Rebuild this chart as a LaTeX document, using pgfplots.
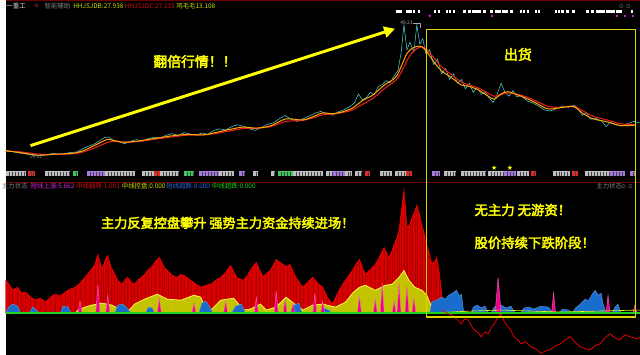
\documentclass[border=0pt]{standalone}
\usepackage{pgfplots}
\pgfplotsset{compat=1.18}
\usepackage{pgfplotstable}
\usepackage{fontspec}
\usetikzlibrary{arrows.meta}
\newfontfamily\cjk{Noto Sans CJK SC}
\newfontfamily\cjkb[FakeBold=3]{Noto Sans CJK SC}
\newfontfamily\sym{DejaVu Sans}
\definecolor{ma1}{RGB}{255,170,0}
\definecolor{ma2}{RGB}{230,30,30}
\definecolor{cand}{RGB}{90,215,215}
\definecolor{redfill}{RGB}{215,0,0}
\definecolor{yfill}{RGB}{195,195,0}
\definecolor{bfill}{RGB}{25,110,205}
\definecolor{txty}{RGB}{255,255,0}
\definecolor{gridred}{RGB}{110,0,0}
\definecolor{boxg}{RGB}{190,190,195}
\definecolor{boxp}{RGB}{165,120,225}
\definecolor{boxr}{RGB}{225,40,40}
\definecolor{boxgr}{RGB}{60,200,90}
\definecolor{hdry}{RGB}{205,225,0}
\definecolor{hdrr}{RGB}{210,10,10}
\definecolor{hdrm}{RGB}{220,40,230}
\definecolor{hdrb}{RGB}{40,110,230}
\definecolor{hdrg}{RGB}{30,210,30}

\pgfplotstableread{
x v
0 33
4 28
7 23
12 26
16 20
20 21
25 16
30 13
35 15
40 11
45 16
50 19
55 17
60 21
65 24
70 26
75 30
80 36
85 42
90 49
93 59
96 48
98 46
101 55
103 58
106 47
110 39
113 33
117 29
120 33
123 36
127 31
130 29
133 33
137 36
141 40
144 44
147 46
151 52
155 56
158 50
160 46
164 42
167 39
170 37
173 36
177 39
180 38
184 35
187 33
192 29
197 26
202 28
207 29
212 33
217 36
222 41
227 48
230 42
233 36
237 34
240 33
244 38
248 45
253 51
256 44
260 36
263 40
267 43
270 48
273 54
277 51
280 49
284 47
287 49
290 42
293 36
297 30
300 26
305 31
310 36
315 30
320 26
325 15
330 9
335 20
340 29
345 36
350 43
354 50
357 54
360 46
363 39
368 44
373 49
377 56
382 66
385 60
387 56
390 63
392 69
395 76
397 83
399 100
402 124
404 100
405 86
408 90
410 96
413 103
415 109
418 98
420 89
423 78
425 69
428 58
430 49
433 52
435 56
438 38
440 19
443 3
445 0
}\redtab

\pgfplotstableread{
x v
0 15.5
8 15.0
16 14.6
24 14.3
32 13.9
40 14.2
48 14.6
56 14.3
64 14.8
72 15.0
78 15.9
84 16.6
90 17.2
96 18.2
100 18.9
104 19.0
108 18.2
114 17.8
120 17.2
126 17.9
132 18.3
138 17.9
144 18.6
150 19.0
156 18.7
162 19.5
168 19.9
174 19.4
180 20.2
186 19.8
192 19.5
198 20.1
204 19.7
210 20.8
216 21.2
222 20.9
228 21.8
234 22.3
240 21.9
246 21.2
252 20.8
258 21.6
264 22.4
270 22.8
276 23.9
282 24.8
288 23.8
294 23.2
300 23.9
306 24.6
312 25.4
318 25.9
324 25.2
330 24.9
336 25.8
342 26.4
348 27.3
352 28.2
356 30.6
360 29.0
364 29.6
368 31.0
372 30.4
376 32.6
380 33.1
384 34.2
388 33.6
392 35.4
396 37.0
399 41.5
402 49.2
405 42.5
408 44.5
412 42.0
415 49.2
418 44.0
421 45.5
424 41.5
428 42.5
432 38.5
436 40.0
440 36.0
444 37.5
448 34.5
452 36.0
456 33.5
460 34.5
464 32.0
468 33.5
472 31.0
476 32.5
480 30.5
484 31.2
488 29.5
492 28.3
496 30.5
500 33.5
504 31.0
508 30.0
512 31.5
516 29.8
520 30.2
526 28.8
532 28.2
538 27.3
544 26.3
550 26.0
556 26.7
562 27.4
568 27.0
574 27.6
578 26.5
582 24.8
586 25.6
590 23.8
596 24.0
602 23.2
606 21.8
610 23.0
616 22.4
622 22.0
628 22.6
634 23.2
640 22.8
}\pricetab

\begin{document}
\begin{tikzpicture}
\begin{scope}[x=1pt,y=1pt]
\useasboundingbox (0,0) rectangle (640,358);
\fill[black] (0,0) rectangle (640,358);
\draw[gridred, line width=1pt] (0,357.5) -- (640,357.5);
\draw[gridred, line width=0.6pt] (0,174) -- (640,174);
\end{scope}

% ---------- price panel ----------
\begin{axis}[at={(0pt,188pt)}, anchor=south west, scale only axis,
  width=640pt, height=158pt, xmin=0, xmax=640, ymin=10.56, ymax=52.70,
  hide axis, clip=false]
\addplot[cand, line width=0.5pt] table[x=x,y=v] {\pricetab};
\addplot[ma2, line width=1.1pt, smooth] coordinates {
(0,15.2)(15,15.0)(33,14.4)(50,14.3)(67,14.5)(77,14.9)(87,15.8)(97,16.9)(103,17.6)(110,17.8)(120,17.6)(133,17.8)(150,18.4)(167,19.0)(183,19.5)(200,19.6)(213,20.0)(227,20.7)(240,21.3)(253,21.4)(267,21.8)(283,23.2)(300,23.5)(313,24.4)(320,25.0)(330,25.2)(340,25.6)(350,26.3)(360,27.8)(370,29.3)(377,30.8)(383,32.2)(390,33.5)(395,34.7)(400,36.8)(405,39.6)(410,41.6)(415,42.8)(420,43.3)(425,42.6)(432,40.4)(440,37.9)(450,35.8)(460,33.8)(467,33.1)(477,32.2)(487,30.8)(493,30.0)(500,30.4)(507,30.9)(520,30.3)(533,29.0)(547,27.3)(560,27.0)(573,27.3)(583,26.0)(593,24.6)(607,23.6)(620,22.6)(635,22.4)};
\addplot[ma1, line width=1pt, smooth] coordinates {
(0,15.3)(15,14.8)(33,14.1)(50,14.4)(67,14.6)(77,15.2)(87,16.4)(97,17.7)(103,18.4)(110,18.0)(120,17.6)(133,17.9)(150,18.6)(167,19.3)(183,19.7)(200,19.6)(213,20.3)(227,21.1)(240,21.7)(253,21.4)(267,22.0)(283,23.9)(300,23.6)(313,24.8)(320,25.5)(330,25.3)(340,25.8)(350,26.8)(360,28.8)(370,30.2)(377,31.8)(383,33.2)(390,34.3)(395,35.6)(400,38.5)(405,41.5)(410,42.8)(415,43.4)(420,43.3)(425,42.0)(432,39.3)(440,36.8)(450,35.0)(460,33.0)(467,32.7)(477,31.7)(487,30.0)(493,29.2)(500,30.6)(507,31.2)(520,30.0)(533,28.5)(547,26.6)(560,26.9)(573,27.2)(583,25.3)(593,23.9)(607,23.1)(620,22.1)(635,22.2)};
% top status dots
\addplot[only marks, mark=square*, mark size=0.8pt, white] coordinates {
(395,52.96)(398,52.96)(405,52.96)(408,52.96)(412,52.96)(417,52.96)(433,52.96)(437,52.96)(445,52.96)(448,52.96)(452,52.96)(463,52.96)(468,52.96)(472,52.96)(475,52.96)(478,52.96)(483,52.96)(490,52.96)(495,52.96)(498,52.96)(502,52.96)(505,52.96)(510,52.96)(520,52.96)(523,52.96)(527,52.96)(535,52.96)(538,52.96)(555,52.96)(558,52.96)(562,52.96)(567,52.96)(573,52.96)(587,52.96)(592,52.96)(597,52.96)(600,52.96)(603,52.96)(607,52.96)(610,52.96)(613,52.96)(617,52.96)(620,52.96)(632,52.96)};
\addplot[only marks, mark=*, mark size=1pt, hdrm] coordinates {
(428,51.6)(491,51.6)(617,51.6)(625,51.6)(633,51.6)};
\end{axis}

% ---------- indicator panel ----------
\begin{axis}[at={(0pt,0pt)}, anchor=south west, scale only axis,
  width=640pt, height=173pt, xmin=0, xmax=640, ymin=-42, ymax=131,
  hide axis]
\addplot[fill=redfill, draw=red, line width=0.7pt] table[x=x,y=v] {\redtab} \closedcycle;
\addplot[ycomb, draw=black, opacity=0.2, line width=0.5pt] table[x=x,y=v] {\redtab};
\addplot[fill=yfill, draw=yellow!70!white, line width=0.8pt] coordinates {
(70,0)(73,3)(80,6)(87,8)(97,10)(107,8)(117,3)(123,1)(130,9)(140,14)(153,19)(163,14)(177,13)(190,18)(197,16)(200,8)(207,3)(217,13)(230,15)(240,3)(247,4)(257,9)(263,3)(273,6)(283,16)(293,8)(300,3)(310,8)(320,9)(333,6)(343,11)(350,20)(357,26)(363,28)(373,23)(383,28)(390,29)(397,36)(402,43)(407,33)(413,26)(420,23)(425,18)(430,6)(435,1)(438,0)} \closedcycle;
\addplot[fill=bfill, draw=bfill!70!white, line width=0.4pt] coordinates {
(0,0)(3,6)(7,9)(12,7)(15,0)(24,0)(27,6)(30,4)(33,0)(55,0)(58,7)(63,6)(66,0)(110,0)(113,8)(118,9)(123,5)(126,0)(141,0)(144,6)(148,5)(150,0)(195,0)(198,10)(202,12)(206,6)(209,0)(228,0)(232,7)(238,9)(242,0)(287,0)(291,8)(296,10)(299,0)(318,0)(321,5)(326,3)(329,0)(428,0)(430,11)(435,13)(440,16)(444,14)(447,18)(451,20)(455,23)(458,17)(460,19)(462,3)(465,0)(470,0)(472,6)(476,8)(480,5)(484,7)(487,0)(490,0)(493,6)(500,8)(505,5)(510,7)(514,0)(520,0)(523,5)(528,6)(533,4)(540,7)(548,6)(552,0)(558,0)(562,4)(568,3)(572,0)(575,5)(580,9)(585,14)(588,12)(592,19)(595,23)(598,18)(601,20)(603,9)(606,0)(612,0)(615,6)(618,9)(621,0)(640,0)} \closedcycle;
\addplot[fill=magenta, draw=magenta!60!white, line width=0.4pt] coordinates {
(0,0)(73,0)(75,12)(77,0)(91,0)(93,29)(95,0)(101,0)(103,18)(105,0)(153,0)(155,15)(157,0)(188,0)(190,10)(192,0)(220,0)(222,12)(224,0)(251,0)(253,16)(255,0)(271,0)(273,22)(275,0)(280,0)(282,14)(284,0)(288,0)(290,10)(292,0)(310,0)(312,20)(314,0)(318,0)(320,12)(322,0)(355,0)(357,17)(359,0)(371,0)(373,14)(375,0)(378,0)(380,30)(382,0)(390,0)(392,12)(394,0)(395,0)(397,30)(399,0)(403,0)(405,27)(407,0)(410,0)(412,15)(414,0)(494,0)(497,36)(500,0)(551,0)(553,21)(555,0)(606,0)(608,18)(610,0)(633,0)(635,8)(637,0)(640,0)} \closedcycle;
\addplot[yellow, line width=0.6pt] coordinates {(438,0.5)(470,2)(500,3)(530,2)(560,1)(600,2)(640,3)};
\addplot[hdrg, line width=1.2pt] coordinates {(0,0)(640,0)};
\addplot[red, line width=0.7pt] coordinates {
(440,3)(445,0)(450,-2)(453,-4)(457,-8)(460,-11)(463,-6)(467,-7)(470,-13)(473,-17)(477,-20)(480,-24)(484,-19)(487,-21)(490,-15)(493,-11)(497,-4)(500,-1)(503,-8)(507,-14)(510,-18)(513,-24)(517,-27)(520,-31)(525,-29)(530,-34)(535,-36)(540,-41)(545,-38)(550,-37)(555,-33)(560,-31)(565,-27)(570,-24)(575,-30)(580,-34)(585,-36)(590,-37)(595,-33)(600,-31)(605,-25)(610,-21)(615,-25)(620,-27)(625,-22)(630,-24)(637,-26)(640,-25)};
\end{axis}

\begin{scope}[x=1pt,y=1pt]
% label boxes row
\foreach \a/\b/\c in {0/20/boxg,22/30/boxr,40/65/boxg,68/73/boxgr,82/100/boxp,100/130/boxg,138/150/boxg,150/156/boxr,156/175/boxg,180/190/boxgr,195/215/boxp,215/230/boxg,235/242/boxp,250/255/boxg,268/272/boxg,275/290/boxgr,290/320/boxg,323/330/boxg,330/342/boxp,342/350/boxg,353/360/boxg,363/368/boxr,378/390/boxg,393/404/boxg,404/410/boxr,430/438/boxp,442/455/boxg,460/485/boxg,487/503/boxg,503/515/boxp,516/528/boxg,530/535/boxr,552/570/boxg,572/578/boxr,585/610/boxg,610/625/boxp,630/636/boxp}
  {\fill[\c] (\a,180) rectangle (\b,185);
   \foreach \k in {3,6,...,60} {\pgfmathparse{\a+\k}\ifdim\pgfmathresult pt<\b pt\fill[black!75] (\pgfmathresult,180.5) rectangle ++(0.6,4);\fi}}
\node[txty, font=\sym\fontsize{7}{7}\selectfont] at (493,188) {★};
\node[txty, font=\sym\fontsize{7}{7}\selectfont] at (509,188) {★};
% arrow
\draw[txty, line width=3pt, -{Triangle[length=11pt,width=11pt]}] (25,211) -- (393,329);
% yellow box
\draw[txty!85!black, line width=1.3pt] (425,38) rectangle (636,328);
% peak / low labels
\node[anchor=east, gray!70!white, font=\cjk\fontsize{5}{5}\selectfont, inner sep=0] at (411,335) {49.23};
\draw[gray!70!white, line width=0.4pt] (411,335) -- (418,335) -- (418,330);
\node[anchor=west, gray, font=\cjk\fontsize{5}{5}\selectfont, inner sep=0] at (24,200) {14.02};
% header texts
\node[anchor=west, inner sep=0, white!85!black, font=\cjk\fontsize{6.5}{6.5}\selectfont] at (-6,352) {三一重工};
\node[inner sep=0, red!80!white, font=\sym\fontsize{5}{5}\selectfont] at (31,352) {⊙};
\node[anchor=west, inner sep=0, gray, font=\cjk\fontsize{6.5}{6.5}\selectfont] at (39,352) {智能辅助};
\node[anchor=west, inner sep=0, hdry, font=\cjk\fontsize{6.5}{6.5}\selectfont] at (68,352) {HHJSJDB:27.938};
\node[anchor=west, inner sep=0, hdrr, font=\cjk\fontsize{6.5}{6.5}\selectfont] at (120,352) {HHJSJDC:27.133};
\node[anchor=west, inner sep=0, hdry, font=\cjk\fontsize{6.5}{6.5}\selectfont] at (172,352) {鸡毛毛13.108};
\node[inner sep=0, gray, font=\sym\fontsize{6}{6}\selectfont] at (625,351) {⊙ ⊙};
% second header
\node[anchor=west, inner sep=0, gray, font=\cjk\fontsize{6.5}{6.5}\selectfont] at (-4,170) {主力状态};
\node[anchor=west, inner sep=0, hdrm, font=\cjk\fontsize{6.5}{6.5}\selectfont] at (25,170) {短线上涨:5.662};
\node[anchor=west, inner sep=0, hdrr, font=\cjk\fontsize{6.5}{6.5}\selectfont] at (71,170) {中线翻转:1.001};
\node[anchor=west, inner sep=0, hdry, font=\cjk\fontsize{6.5}{6.5}\selectfont] at (117,170) {中线控盘:0.000};
\node[anchor=west, inner sep=0, hdrb, font=\cjk\fontsize{6.5}{6.5}\selectfont] at (162,170) {短线超跌:0.000};
\node[anchor=west, inner sep=0, hdrg, font=\cjk\fontsize{6.5}{6.5}\selectfont] at (208,170) {中线超跌:0.000};
\node[anchor=west, inner sep=0, gray, font=\cjk\fontsize{6.5}{6.5}\selectfont] at (596,170) {主力状态};
\node[anchor=west, inner sep=0, gray, font=\sym\fontsize{6}{6}\selectfont] at (621,170) {⊙ ⊙};
% annotations
\node[txty, font=\cjkb\fontsize{14}{14}\selectfont] at (191,296) {翻倍行情！！};
\node[txty, font=\cjkb\fontsize{14}{14}\selectfont] at (517,303) {出货};
\node[anchor=west, inner sep=0, txty, font=\cjkb\fontsize{13.3}{13.3}\selectfont] at (96,133) {主力反复控盘攀升 强势主力资金持续进场！};
\node[anchor=west, inner sep=0, txty, font=\cjkb\fontsize{13.5}{13.5}\selectfont] at (473,146) {无主力 无游资！};
\node[anchor=west, inner sep=0, txty, font=\cjkb\fontsize{13.5}{13.5}\selectfont] at (473,113) {股价持续下跌阶段！};
\end{scope}
\end{tikzpicture}
\end{document}
